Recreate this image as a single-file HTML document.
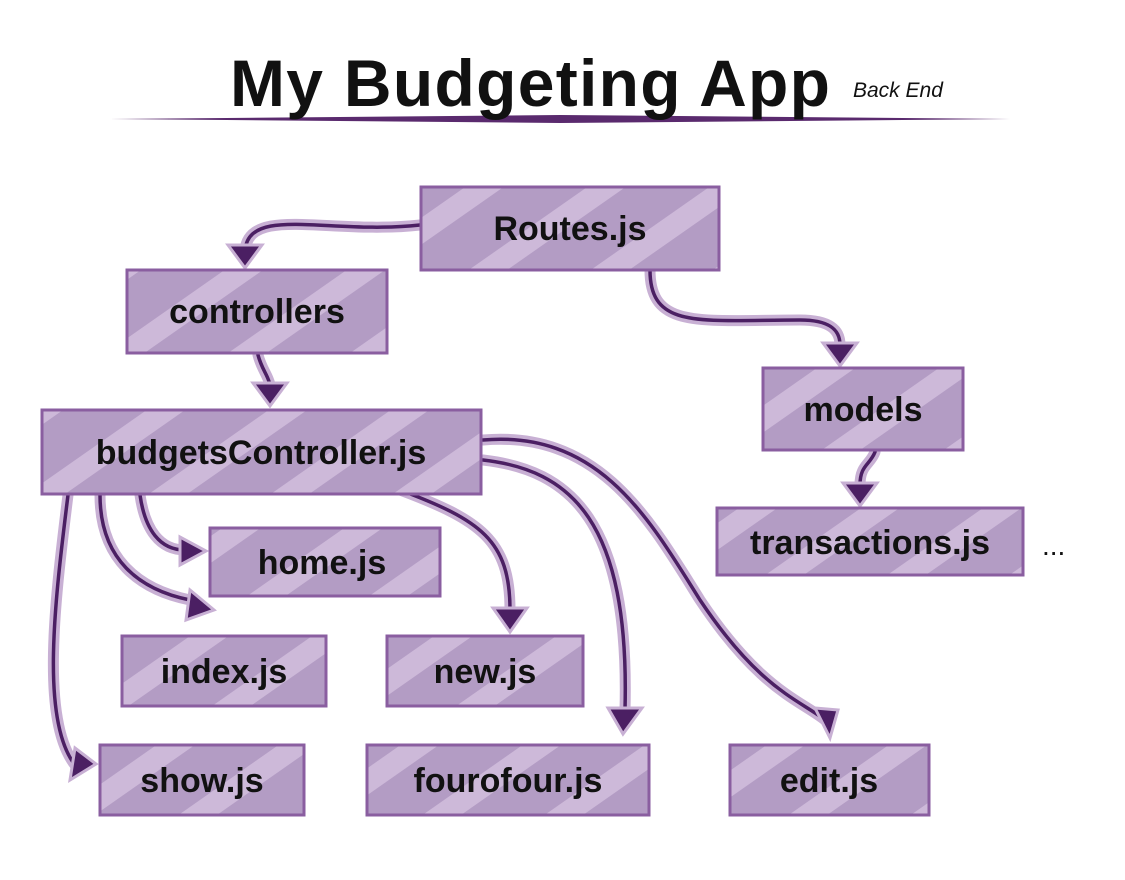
<!DOCTYPE html>
<html><head><style>
body{margin:0;background:#fff;width:1125px;height:875px;overflow:hidden}
</style></head><body>
<svg width="1125" height="875" xmlns="http://www.w3.org/2000/svg" font-family="Liberation Sans, sans-serif">
<defs>
<pattern id="st" width="70" height="70" patternUnits="userSpaceOnUse" patternTransform="rotate(-35)">
<rect width="70" height="70" fill="#b39cc4"/>
<rect width="70" height="22" fill="#cdb9d9"/>
</pattern>
</defs>
<polygon points="110,119 560,115 1010,119 560,123" fill="#5a2a6e"/>
<text x="230" y="106" font-size="66" font-weight="bold" fill="#111" textLength="600">My Budgeting App</text>
<text x="853" y="97" font-size="21" font-style="italic" fill="#111">Back End</text>

<g fill="none" stroke-linecap="round">
<g stroke="#c8b0d4" stroke-width="11">
<path d="M420,225 C330,235 250,205 245,250"/>
<path d="M650,270 C650,330 700,320 800,320 C830,320 840,330 840,345"/>
<path d="M258,355 C262,370 268,375 270,385"/>
<path d="M875,452 C870,465 860,465 860,485"/>
<path d="M140,495 C145,530 160,550 185,550"/>
<path d="M100,495 C100,560 140,590 190,600"/>
<path d="M68,495 C55,600 40,720 75,765"/>
<path d="M400,490 C480,520 510,540 510,610"/>
<path d="M483,460 C570,470 630,520 625,710"/>
<path d="M483,440 C600,430 650,520 700,600 C760,690 800,700 825,720"/>
</g>
<g stroke="#4b1f63" stroke-width="3.5">
<path d="M420,225 C330,235 250,205 245,250"/>
<path d="M650,270 C650,330 700,320 800,320 C830,320 840,330 840,345"/>
<path d="M258,355 C262,370 268,375 270,385"/>
<path d="M875,452 C870,465 860,465 860,485"/>
<path d="M140,495 C145,530 160,550 185,550"/>
<path d="M100,495 C100,560 140,590 190,600"/>
<path d="M68,495 C55,600 40,720 75,765"/>
<path d="M400,490 C480,520 510,540 510,610"/>
<path d="M483,460 C570,470 630,520 625,710"/>
<path d="M483,440 C600,430 650,520 700,600 C760,690 800,700 825,720"/>
</g>
</g>
<g fill="#4b1f63" stroke="#c8b0d4" stroke-width="3">
<polygon points="228,245 262,245 245,268"/>
<polygon points="823,343 857,343 840,366"/>
<polygon points="253,383 287,383 270,406"/>
<polygon points="843,483 877,483 860,506"/>
<polygon points="180,537 180,565 206,551"/>
<polygon points="190,590 186,620 214,610"/>
<polygon points="75,748 70,780 96,764"/>
<polygon points="493,608 527,608 510,632"/>
<polygon points="608,708 642,708 623,734"/>
<polygon points="815,708 838,710 830,738"/>
</g>

<g stroke="#8a5ea0" stroke-width="3" fill="url(#st)">
<rect x="421" y="187" width="298" height="83"/>
<rect x="127" y="270" width="260" height="83"/>
<rect x="763" y="368" width="200" height="82"/>
<rect x="42" y="410" width="439" height="84"/>
<rect x="717" y="508" width="306" height="67"/>
<rect x="210" y="528" width="230" height="68"/>
<rect x="122" y="636" width="204" height="70"/>
<rect x="387" y="636" width="196" height="70"/>
<rect x="100" y="745" width="204" height="70"/>
<rect x="367" y="745" width="282" height="70"/>
<rect x="730" y="745" width="199" height="70"/>
</g>
<g font-size="34" font-weight="bold" fill="#111" text-anchor="middle">
<text x="570" y="240">Routes.js</text>
<text x="257" y="323">controllers</text>
<text x="863" y="421">models</text>
<text x="261" y="464">budgetsController.js</text>
<text x="870" y="554">transactions.js</text>
<text x="322" y="574">home.js</text>
<text x="224" y="683">index.js</text>
<text x="485" y="683">new.js</text>
<text x="202" y="792">show.js</text>
<text x="508" y="792">fourofour.js</text>
<text x="829" y="792">edit.js</text>
</g>
<text x="1042" y="555" font-size="28" fill="#111">...</text>
</svg>
</body></html>
